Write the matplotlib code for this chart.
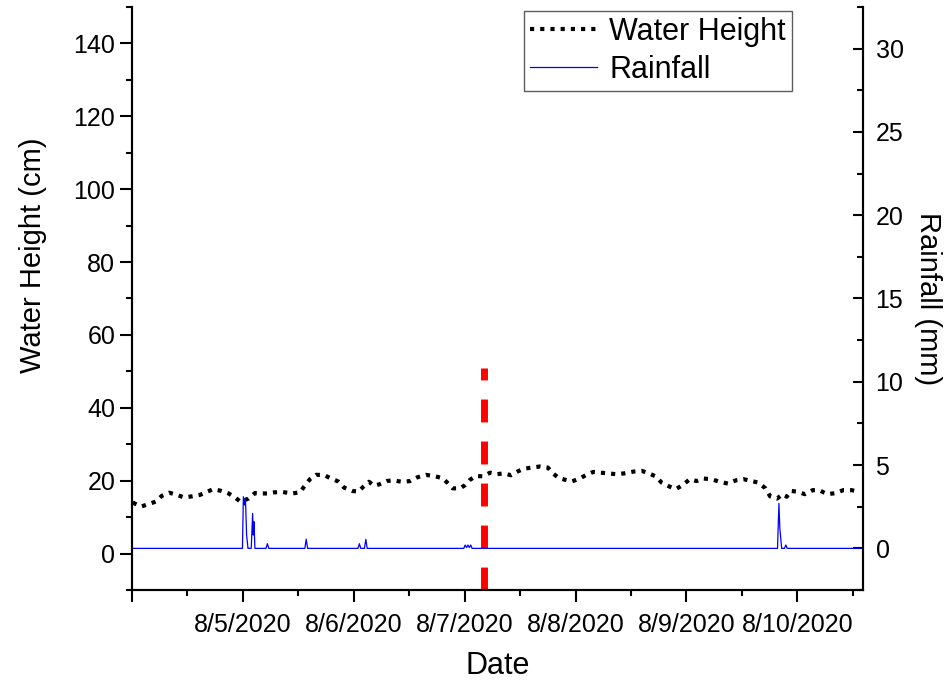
import pandas as pd
import matplotlib
matplotlib.use("Agg")
import matplotlib.pyplot as plt
import matplotlib.dates as mdates
from matplotlib.ticker import MultipleLocator, FuncFormatter

plt.rcParams["font.family"] = ["Liberation Sans", "DejaVu Sans"]

START = pd.Timestamp("2020-08-04 00:00")
END_HOURS = 158.2

# water height (cm), hours after 8/4/2020 00:00
wh_hours = [0.15, 1.9, 3.7, 5.2, 6.4, 8.1, 9.7, 11.3, 12.9, 14.7, 16.0, 17.6,
            19.3, 20.9, 22.4, 23.5, 25.2, 26.6, 27.9, 29.4, 30.8, 32.6, 34.6,
            36.4, 37.2, 38.5, 39.8, 41.5, 42.9, 44.6, 45.9, 47.6, 49.0, 50.1,
            51.3, 52.4, 53.5, 55.1, 56.5, 58.4, 60.2, 61.7, 63.6, 65.6, 67.2,
            68.2, 69.4, 71.0, 72.1, 73.1, 74.4, 75.9, 77.5, 79.0, 80.5, 82.0,
            83.4, 84.8, 86.6, 88.3, 90.0, 91.0, 92.4, 93.9, 95.2, 96.9, 98.2,
            99.8, 101.4, 103.1, 104.7, 106.5, 108.5, 110.3, 111.7, 113.3,
            114.6, 116.3, 117.7, 119.2, 120.7, 122.2, 123.6, 125.4, 127.2,
            129.0, 130.7, 132.4, 134.1, 135.5, 137.1, 138.1, 139.6, 140.8,
            141.7, 142.5, 144.0, 145.6, 147.3, 148.7, 150.5, 152.3, 153.9,
            155.7, 157.4]
wh_cm = [14.0, 12.9, 13.6, 14.3, 15.8, 16.7, 16.1, 15.4, 15.7, 16.1, 16.8, 17.7,
         17.2, 16.5, 15.3, 14.2, 15.1, 16.6, 16.5, 16.5, 16.8, 16.9, 16.5,
         16.8, 18.3, 20.4, 21.6, 21.6, 20.7, 19.8, 18.1, 17.2, 17.0, 18.4,
         19.7, 18.6, 19.0, 19.9, 20.1, 19.7, 19.9, 20.9, 21.6, 21.2, 20.7,
         19.5, 17.9, 17.9, 18.8, 20.2, 21.3, 21.2, 22.2, 21.8, 22.0, 21.5,
         22.5, 23.3, 23.6, 23.9, 23.6, 22.1, 20.7, 20.2, 19.8, 20.6, 21.5,
         22.4, 22.2, 22.0, 21.8, 22.0, 22.5, 22.7, 22.1, 21.2,
         19.5, 18.4, 17.7, 18.8, 20.4, 19.9, 20.6, 20.4, 19.7,
         19.2, 20.1, 20.4, 19.9, 19.5, 17.9, 15.7, 15.1, 16.3,
         15.6, 17.2, 17.0, 16.3, 17.4, 17.4, 16.3, 16.6, 17.4,
         17.4, 17.0]

# rainfall (mm), hours after 8/4/2020 00:00
rain_hours = [0.0, 23.9, 24.1, 24.35, 24.55, 24.8, 25.1, 25.8, 26.1, 26.25,
              26.4, 26.6, 29.0, 29.3, 29.6, 37.4, 37.7, 38.0, 48.9, 49.2,
              49.5, 50.3, 50.6, 50.9, 71.8, 72.1, 72.4, 72.7, 73.0, 73.3,
              73.6, 139.7, 140.0, 140.2, 140.35, 140.6, 141.2, 141.5, 141.8,
              END_HOURS]
rain_mm = [0.0, 0.0, 3.1, 2.6, 3.0, 0.8, 0.0, 0.0, 2.1, 0.8,
           1.6, 0.0, 0.0, 0.28, 0.0, 0.0, 0.55, 0.0, 0.0, 0.28,
           0.0, 0.0, 0.54, 0.0, 0.0, 0.2, 0.05, 0.2, 0.05, 0.2,
           0.0, 0.0, 2.7, 1.2, 0.75, 0.0, 0.0, 0.2, 0.0,
           0.0]

event_hours = 76.2
event_top_cm = 51


def to_time(hours):
    return START + pd.to_timedelta(pd.Series(hours), unit="h")


def date_label(v, pos):
    d = mdates.num2date(v)
    if d.day == 4:
        return ""
    return f"{d.month}/{d.day}/{d.year}"


fig = plt.figure(figsize=(9.47, 6.84), dpi=100)
ax = fig.add_axes([0.1394, 0.1374, 0.7719, 0.8524])
ax2 = ax.twinx()

l1, = ax.plot(to_time(wh_hours), wh_cm, color="black", lw=3.0,
              linestyle=(0, (1, 1.45)), label="Water Height")
l2, = ax2.plot(to_time(rain_hours), rain_mm, color="#0000FF", lw=0.9,
               label="Rainfall")
ev = to_time([event_hours, event_hours])
ax.plot(ev, [-10, event_top_cm], color="#FF0000", lw=5, dashes=(3.3, 2.75),
        zorder=1)

ax.set_xlim(START, START + pd.Timedelta(hours=END_HOURS))
ax.set_ylim(-10, 150)
ax2.set_ylim(-2.5, 32.5)

ax.xaxis.set_major_locator(mdates.DayLocator())
ax.xaxis.set_minor_locator(mdates.HourLocator(byhour=[12]))
ax.xaxis.set_major_formatter(FuncFormatter(date_label))
ax.yaxis.set_major_locator(MultipleLocator(20))
ax.yaxis.set_minor_locator(MultipleLocator(10))
ax2.yaxis.set_major_locator(MultipleLocator(5))
ax2.yaxis.set_minor_locator(MultipleLocator(2.5))

for a in (ax, ax2):
    for s in a.spines.values():
        s.set_linewidth(1.5)
    a.spines["top"].set_visible(False)

ax.tick_params(axis="both", which="major", length=8.5, width=1.5,
               labelsize=18, direction="out")
ax.tick_params(axis="both", which="minor", length=4.5, width=1.5,
               direction="out")
ax.tick_params(axis="x", pad=8)
ax2.tick_params(axis="y", which="major", length=7, width=1.5,
                labelsize=18, direction="in", pad=9)
ax2.tick_params(axis="y", which="minor", length=4.5, width=1.5,
                direction="in")

ax.set_xlabel("Date", fontsize=22, labelpad=10)
ax.set_ylabel("Water Height (cm)", fontsize=21)
ax.yaxis.set_label_coords(-0.116, 0.575)
ax2.set_ylabel("Rainfall (mm)", fontsize=21, rotation=270, labelpad=28)

leg = ax.legend([l1, l2], ["Water Height", "Rainfall"], loc="upper right",
                bbox_to_anchor=(0.903, 0.993), fontsize=22, frameon=True,
                fancybox=False, borderpad=0.2, labelspacing=0.25,
                handlelength=2.2, handletextpad=0.4, borderaxespad=0)
leg.get_frame().set_edgecolor("#333333")
leg.get_frame().set_linewidth(1.0)

fig.savefig("out.png", dpi=100)
